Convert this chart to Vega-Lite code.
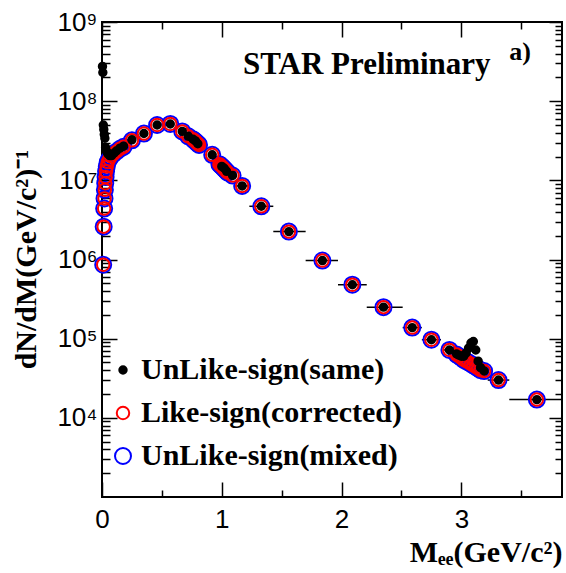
{
  "$schema": "https://vega.github.io/schema/vega-lite/v6.json",
  "width": 460,
  "height": 475,
  "autosize": {"type": "none"},
  "padding": {"left": 102, "top": 22, "right": 4, "bottom": 76},
  "background": "white",
  "config": {
    "view": {"stroke": "black", "strokeWidth": 2},
    "axis": {"domain": false, "grid": false, "tickColor": "black", "tickWidth": 1.5, "labelColor": "black", "titleColor": "black"}
  },
  "datasets": {
    "pts": [
      {"s": "UnLike-sign(mixed)", "m": 0.010, "v": 860000}, {"s": "UnLike-sign(mixed)", "m": 0.014, "v": 2600000}, {"s": "UnLike-sign(mixed)", "m": 0.018, "v": 4400000}, {"s": "UnLike-sign(mixed)", "m": 0.021, "v": 5900000}, {"s": "UnLike-sign(mixed)", "m": 0.024, "v": 7600000}, {"s": "UnLike-sign(mixed)", "m": 0.027, "v": 9200000}, {"s": "UnLike-sign(mixed)", "m": 0.030, "v": 11000000}, {"s": "UnLike-sign(mixed)", "m": 0.034, "v": 13000000}, {"s": "UnLike-sign(mixed)", "m": 0.040, "v": 15000000}, {"s": "UnLike-sign(mixed)", "m": 0.048, "v": 17000000}, {"s": "UnLike-sign(mixed)", "m": 0.060, "v": 18500000}, {"s": "UnLike-sign(mixed)", "m": 0.075, "v": 20000000}, {"s": "UnLike-sign(mixed)", "m": 0.095, "v": 21500000}, {"s": "UnLike-sign(mixed)", "m": 0.12, "v": 23000000}, {"s": "UnLike-sign(mixed)", "m": 0.15, "v": 25000000}, {"s": "UnLike-sign(mixed)", "m": 0.18, "v": 26500000}, {"s": "UnLike-sign(mixed)", "m": 0.25, "v": 32000000}, {"s": "UnLike-sign(mixed)", "m": 0.35, "v": 39000000}, {"s": "UnLike-sign(mixed)", "m": 0.46, "v": 50000000}, {"s": "UnLike-sign(mixed)", "m": 0.57, "v": 51500000}, {"s": "UnLike-sign(mixed)", "m": 0.67, "v": 41500000}, {"s": "UnLike-sign(mixed)", "m": 0.72, "v": 36000000}, {"s": "UnLike-sign(mixed)", "m": 0.76, "v": 33000000}, {"s": "UnLike-sign(mixed)", "m": 0.77, "v": 32000000}, {"s": "UnLike-sign(mixed)", "m": 0.78, "v": 31000000}, {"s": "UnLike-sign(mixed)", "m": 0.79, "v": 30000000}, {"s": "UnLike-sign(mixed)", "m": 0.80, "v": 29000000}, {"s": "UnLike-sign(mixed)", "m": 0.81, "v": 28000000}, {"s": "UnLike-sign(mixed)", "m": 0.92, "v": 21000000}, {"s": "UnLike-sign(mixed)", "m": 0.98, "v": 16000000}, {"s": "UnLike-sign(mixed)", "m": 0.99, "v": 15500000}, {"s": "UnLike-sign(mixed)", "m": 1.00, "v": 15000000}, {"s": "UnLike-sign(mixed)", "m": 1.01, "v": 14500000}, {"s": "UnLike-sign(mixed)", "m": 1.02, "v": 14000000}, {"s": "UnLike-sign(mixed)", "m": 1.03, "v": 13500000}, {"s": "UnLike-sign(mixed)", "m": 1.04, "v": 13000000}, {"s": "UnLike-sign(mixed)", "m": 1.05, "v": 12500000}, {"s": "UnLike-sign(mixed)", "m": 1.09, "v": 11500000}, {"s": "UnLike-sign(mixed)", "m": 1.17, "v": 8500000}, {"s": "UnLike-sign(mixed)", "m": 1.33, "v": 4700000}, {"s": "UnLike-sign(mixed)", "m": 1.56, "v": 2250000}, {"s": "UnLike-sign(mixed)", "m": 1.84, "v": 970000}, {"s": "UnLike-sign(mixed)", "m": 2.09, "v": 480000}, {"s": "UnLike-sign(mixed)", "m": 2.35, "v": 250000}, {"s": "UnLike-sign(mixed)", "m": 2.59, "v": 138000}, {"s": "UnLike-sign(mixed)", "m": 2.75, "v": 97000}, {"s": "UnLike-sign(mixed)", "m": 2.90, "v": 72000}, {"s": "UnLike-sign(mixed)", "m": 2.96, "v": 63000}, {"s": "UnLike-sign(mixed)", "m": 2.98, "v": 60000}, {"s": "UnLike-sign(mixed)", "m": 3.00, "v": 57000}, {"s": "UnLike-sign(mixed)", "m": 3.02, "v": 54000}, {"s": "UnLike-sign(mixed)", "m": 3.04, "v": 52000}, {"s": "UnLike-sign(mixed)", "m": 3.06, "v": 50000}, {"s": "UnLike-sign(mixed)", "m": 3.08, "v": 48000}, {"s": "UnLike-sign(mixed)", "m": 3.10, "v": 46000}, {"s": "UnLike-sign(mixed)", "m": 3.12, "v": 44000}, {"s": "UnLike-sign(mixed)", "m": 3.14, "v": 42000}, {"s": "UnLike-sign(mixed)", "m": 3.16, "v": 40000}, {"s": "UnLike-sign(mixed)", "m": 3.19, "v": 39000}, {"s": "UnLike-sign(mixed)", "m": 3.31, "v": 30000}, {"s": "UnLike-sign(mixed)", "m": 3.63, "v": 17000},
      {"s": "Like-sign(corrected)", "m": 0.010, "v": 860000}, {"s": "Like-sign(corrected)", "m": 0.014, "v": 2600000}, {"s": "Like-sign(corrected)", "m": 0.018, "v": 4400000}, {"s": "Like-sign(corrected)", "m": 0.021, "v": 5900000}, {"s": "Like-sign(corrected)", "m": 0.024, "v": 7600000}, {"s": "Like-sign(corrected)", "m": 0.027, "v": 9200000}, {"s": "Like-sign(corrected)", "m": 0.030, "v": 11000000}, {"s": "Like-sign(corrected)", "m": 0.034, "v": 13000000}, {"s": "Like-sign(corrected)", "m": 0.040, "v": 15000000}, {"s": "Like-sign(corrected)", "m": 0.048, "v": 17000000}, {"s": "Like-sign(corrected)", "m": 0.060, "v": 18500000}, {"s": "Like-sign(corrected)", "m": 0.075, "v": 20000000}, {"s": "Like-sign(corrected)", "m": 0.095, "v": 21500000}, {"s": "Like-sign(corrected)", "m": 0.12, "v": 23000000}, {"s": "Like-sign(corrected)", "m": 0.15, "v": 25000000}, {"s": "Like-sign(corrected)", "m": 0.18, "v": 26500000}, {"s": "Like-sign(corrected)", "m": 0.25, "v": 32000000}, {"s": "Like-sign(corrected)", "m": 0.35, "v": 39000000}, {"s": "Like-sign(corrected)", "m": 0.46, "v": 50000000}, {"s": "Like-sign(corrected)", "m": 0.57, "v": 51500000}, {"s": "Like-sign(corrected)", "m": 0.67, "v": 41500000}, {"s": "Like-sign(corrected)", "m": 0.72, "v": 36000000}, {"s": "Like-sign(corrected)", "m": 0.76, "v": 33000000}, {"s": "Like-sign(corrected)", "m": 0.77, "v": 32000000}, {"s": "Like-sign(corrected)", "m": 0.78, "v": 31000000}, {"s": "Like-sign(corrected)", "m": 0.79, "v": 30000000}, {"s": "Like-sign(corrected)", "m": 0.80, "v": 29000000}, {"s": "Like-sign(corrected)", "m": 0.81, "v": 28000000}, {"s": "Like-sign(corrected)", "m": 0.92, "v": 21000000}, {"s": "Like-sign(corrected)", "m": 0.98, "v": 16000000}, {"s": "Like-sign(corrected)", "m": 0.99, "v": 15500000}, {"s": "Like-sign(corrected)", "m": 1.00, "v": 15000000}, {"s": "Like-sign(corrected)", "m": 1.01, "v": 14500000}, {"s": "Like-sign(corrected)", "m": 1.02, "v": 14000000}, {"s": "Like-sign(corrected)", "m": 1.03, "v": 13500000}, {"s": "Like-sign(corrected)", "m": 1.04, "v": 13000000}, {"s": "Like-sign(corrected)", "m": 1.05, "v": 12500000}, {"s": "Like-sign(corrected)", "m": 1.09, "v": 11500000}, {"s": "Like-sign(corrected)", "m": 1.17, "v": 8500000}, {"s": "Like-sign(corrected)", "m": 1.33, "v": 4700000}, {"s": "Like-sign(corrected)", "m": 1.56, "v": 2250000}, {"s": "Like-sign(corrected)", "m": 1.84, "v": 970000}, {"s": "Like-sign(corrected)", "m": 2.09, "v": 480000}, {"s": "Like-sign(corrected)", "m": 2.35, "v": 250000}, {"s": "Like-sign(corrected)", "m": 2.59, "v": 138000}, {"s": "Like-sign(corrected)", "m": 2.75, "v": 97000}, {"s": "Like-sign(corrected)", "m": 2.90, "v": 72000}, {"s": "Like-sign(corrected)", "m": 2.96, "v": 63000}, {"s": "Like-sign(corrected)", "m": 2.98, "v": 60000}, {"s": "Like-sign(corrected)", "m": 3.00, "v": 57000}, {"s": "Like-sign(corrected)", "m": 3.02, "v": 54000}, {"s": "Like-sign(corrected)", "m": 3.04, "v": 52000}, {"s": "Like-sign(corrected)", "m": 3.06, "v": 50000}, {"s": "Like-sign(corrected)", "m": 3.08, "v": 48000}, {"s": "Like-sign(corrected)", "m": 3.10, "v": 46000}, {"s": "Like-sign(corrected)", "m": 3.12, "v": 44000}, {"s": "Like-sign(corrected)", "m": 3.14, "v": 42000}, {"s": "Like-sign(corrected)", "m": 3.16, "v": 40000}, {"s": "Like-sign(corrected)", "m": 3.19, "v": 39000}, {"s": "Like-sign(corrected)", "m": 3.31, "v": 30000}, {"s": "Like-sign(corrected)", "m": 3.63, "v": 17000},
      {"s": "UnLike-sign(same)", "m": 0.004, "v": 275000000}, {"s": "UnLike-sign(same)", "m": 0.007, "v": 230000000}, {"s": "UnLike-sign(same)", "m": 0.011, "v": 50000000}, {"s": "UnLike-sign(same)", "m": 0.015, "v": 44000000}, {"s": "UnLike-sign(same)", "m": 0.019, "v": 38000000}, {"s": "UnLike-sign(same)", "m": 0.024, "v": 34000000}, {"s": "UnLike-sign(same)", "m": 0.030, "v": 26000000}, {"s": "UnLike-sign(same)", "m": 0.040, "v": 23000000}, {"s": "UnLike-sign(same)", "m": 0.050, "v": 21500000}, {"s": "UnLike-sign(same)", "m": 0.065, "v": 20500000}, {"s": "UnLike-sign(same)", "m": 0.080, "v": 20500000}, {"s": "UnLike-sign(same)", "m": 0.10, "v": 22000000}, {"s": "UnLike-sign(same)", "m": 0.12, "v": 23500000}, {"s": "UnLike-sign(same)", "m": 0.15, "v": 25500000}, {"s": "UnLike-sign(same)", "m": 0.18, "v": 27000000}, {"s": "UnLike-sign(same)", "m": 0.25, "v": 32500000}, {"s": "UnLike-sign(same)", "m": 0.35, "v": 39000000}, {"s": "UnLike-sign(same)", "m": 0.46, "v": 50000000}, {"s": "UnLike-sign(same)", "m": 0.57, "v": 51500000}, {"s": "UnLike-sign(same)", "m": 0.67, "v": 41500000}, {"s": "UnLike-sign(same)", "m": 0.72, "v": 36000000}, {"s": "UnLike-sign(same)", "m": 0.76, "v": 33000000}, {"s": "UnLike-sign(same)", "m": 0.78, "v": 31500000}, {"s": "UnLike-sign(same)", "m": 0.80, "v": 29000000}, {"s": "UnLike-sign(same)", "m": 0.92, "v": 21000000}, {"s": "UnLike-sign(same)", "m": 1.00, "v": 15000000}, {"s": "UnLike-sign(same)", "m": 1.02, "v": 14200000}, {"s": "UnLike-sign(same)", "m": 1.04, "v": 13000000}, {"s": "UnLike-sign(same)", "m": 1.09, "v": 11500000}, {"s": "UnLike-sign(same)", "m": 1.17, "v": 8500000, "lo": 1.11, "hi": 1.23}, {"s": "UnLike-sign(same)", "m": 1.33, "v": 4700000, "lo": 1.23, "hi": 1.43}, {"s": "UnLike-sign(same)", "m": 1.56, "v": 2250000, "lo": 1.43, "hi": 1.70}, {"s": "UnLike-sign(same)", "m": 1.84, "v": 970000, "lo": 1.70, "hi": 1.97}, {"s": "UnLike-sign(same)", "m": 2.09, "v": 480000, "lo": 1.97, "hi": 2.21}, {"s": "UnLike-sign(same)", "m": 2.35, "v": 250000, "lo": 2.21, "hi": 2.51}, {"s": "UnLike-sign(same)", "m": 2.59, "v": 138000, "lo": 2.51, "hi": 2.67}, {"s": "UnLike-sign(same)", "m": 2.75, "v": 97000, "lo": 2.67, "hi": 2.83}, {"s": "UnLike-sign(same)", "m": 2.90, "v": 72000, "lo": 2.85, "hi": 2.95}, {"s": "UnLike-sign(same)", "m": 2.96, "v": 64000}, {"s": "UnLike-sign(same)", "m": 2.98, "v": 62000}, {"s": "UnLike-sign(same)", "m": 3.00, "v": 60000}, {"s": "UnLike-sign(same)", "m": 3.02, "v": 60000}, {"s": "UnLike-sign(same)", "m": 3.04, "v": 66000}, {"s": "UnLike-sign(same)", "m": 3.06, "v": 76000}, {"s": "UnLike-sign(same)", "m": 3.08, "v": 88000}, {"s": "UnLike-sign(same)", "m": 3.10, "v": 92000}, {"s": "UnLike-sign(same)", "m": 3.12, "v": 72000}, {"s": "UnLike-sign(same)", "m": 3.14, "v": 52000}, {"s": "UnLike-sign(same)", "m": 3.16, "v": 43000}, {"s": "UnLike-sign(same)", "m": 3.19, "v": 39000}, {"s": "UnLike-sign(same)", "m": 3.31, "v": 30000, "lo": 3.22, "hi": 3.40}, {"s": "UnLike-sign(same)", "m": 3.63, "v": 17000, "lo": 3.40, "hi": 3.90}
    ],
    "star": [{"t": "STAR Preliminary"}],
    "tag": [{"t": "a)"}]
  },
  "resolve": {"axis": {"x": "independent", "y": "independent"}},
  "layer": [
    {
      "data": {"name": "pts"},
      "transform": [{"filter": "isValid(datum.lo)"}],
      "mark": {"type": "rule", "color": "black", "strokeWidth": 1.5, "clip": true},
      "encoding": {
        "x": {
          "field": "lo", "type": "quantitative",
          "scale": {"domain": [0, 3.84], "nice": false, "zero": false},
          "axis": {
            "orient": "bottom", "values": [0, 1, 2, 3], "tickSize": -15, "labelPadding": 24,
            "labelFont": "Liberation Sans", "labelFontSize": 26, "labelFlush": false, "labelOverlap": false,
            "title": "Mₑₑ(GeV/c²)", "titleFont": "Liberation Serif", "titleFontWeight": "bold", "titleFontSize": 30,
            "titleAlign": "right", "titleAnchor": "end", "titleX": 460, "titleY": 55, "titleBaseline": "middle"
          }
        },
        "x2": {"field": "hi"},
        "y": {
          "field": "v", "type": "quantitative",
          "scale": {"type": "log", "domain": [1000, 1000000000], "nice": false},
          "axis": {
            "orient": "left", "values": [10000, 100000, 1000000, 10000000, 100000000, 1000000000],
            "tickSize": -15, "labelPadding": 20, "labelFont": "Liberation Sans", "labelFontSize": 26, "labelOverlap": false, "labelFlush": false,
            "labelExpr": "'10' + ['⁰','¹','²','³','⁴','⁵','⁶','⁷','⁸','⁹'][round(log(datum.value)/LN10)]",
            "title": "dN/dM(GeV/c²)⁻¹", "titleFont": "Liberation Serif", "titleFontWeight": "bold", "titleFontSize": 30,
            "titleAngle": 270, "titleAlign": "center", "titleBaseline": "middle", "titleX": -76, "titleY": 237
          }
        }
      }
    },
    {
      "data": {"name": "pts"},
      "mark": {"type": "point", "filled": false, "strokeWidth": 2, "opacity": 1},
      "encoding": {
        "x": {
          "field": "m", "type": "quantitative",
          "scale": {"domain": [0, 3.84], "nice": false, "zero": false},
          "axis": {"orient": "bottom", "values": [0.5, 1.5, 2.5, 3.5], "tickSize": -7, "labels": false, "title": null}
        },
        "y": {
          "field": "v", "type": "quantitative",
          "scale": {"type": "log", "domain": [1000, 1000000000], "nice": false},
          "axis": {"orient": "left", "values": [2000, 3000, 4000, 5000, 6000, 7000, 8000, 9000, 20000, 30000, 40000, 50000, 60000, 70000, 80000, 90000, 200000, 300000, 400000, 500000, 600000, 700000, 800000, 900000, 2000000, 3000000, 4000000, 5000000, 6000000, 7000000, 8000000, 9000000, 20000000, 30000000, 40000000, 50000000, 60000000, 70000000, 80000000, 90000000, 200000000, 300000000, 400000000, 500000000, 600000000, 700000000, 800000000, 900000000], "tickSize": -8, "labels": false, "title": null}
        },
        "fill": {
          "field": "s", "type": "nominal",
          "scale": {"domain": ["UnLike-sign(same)", "Like-sign(corrected)", "UnLike-sign(mixed)"], "range": ["black", "transparent", "transparent"]},
          "legend": {"title": null, "orient": "none", "legendX": 6, "legendY": 333, "padding": 0, "labelFont": "Liberation Serif", "labelFontWeight": "bold", "labelFontSize": 30, "labelColor": "black", "labelLimit": 420, "labelOffset": 3, "rowPadding": 13, "symbolStrokeWidth": 2, "symbolType": "circle"}
        },
        "stroke": {
          "field": "s", "type": "nominal",
          "scale": {"domain": ["UnLike-sign(same)", "Like-sign(corrected)", "UnLike-sign(mixed)"], "range": ["black", "red", "blue"]},
          "legend": {"title": null, "orient": "none", "legendX": 6, "legendY": 333, "padding": 0, "labelFont": "Liberation Serif", "labelFontWeight": "bold", "labelFontSize": 30, "labelColor": "black", "labelLimit": 420, "labelOffset": 3, "rowPadding": 13, "symbolStrokeWidth": 2, "symbolType": "circle"}
        },
        "size": {
          "field": "s", "type": "nominal",
          "scale": {"domain": ["UnLike-sign(same)", "Like-sign(corrected)", "UnLike-sign(mixed)"], "range": [55, 256]},
          "legend": {"title": null, "orient": "none", "legendX": 6, "legendY": 333, "padding": 0, "labelFont": "Liberation Serif", "labelFontWeight": "bold", "labelFontSize": 30, "labelColor": "black", "labelLimit": 420, "labelOffset": 3, "rowPadding": 13, "symbolStrokeWidth": 2, "symbolType": "circle"}
        }
      }
    },
    {
      "data": {"name": "star"},
      "mark": {"type": "text", "font": "Liberation Serif", "fontWeight": "bold", "fontSize": 31, "align": "center", "baseline": "middle", "color": "black"},
      "encoding": {
        "text": {"field": "t"},
        "x": {
          "datum": 2.21, "type": "quantitative",
          "scale": {"domain": [0, 3.84], "nice": false, "zero": false},
          "axis": {"orient": "top", "values": [0, 1, 2, 3], "tickSize": -15, "labels": false, "title": null}
        },
        "y": {
          "datum": 285000000, "type": "quantitative",
          "scale": {"type": "log", "domain": [1000, 1000000000], "nice": false},
          "axis": {"orient": "right", "values": [10000, 100000, 1000000, 10000000, 100000000, 1000000000], "tickSize": -13, "labels": false, "title": null}
        }
      }
    },
    {
      "data": {"name": "tag"},
      "mark": {"type": "text", "font": "Liberation Serif", "fontWeight": "bold", "fontSize": 26, "align": "center", "baseline": "middle", "color": "black"},
      "encoding": {
        "text": {"field": "t"},
        "x": {
          "datum": 3.49, "type": "quantitative",
          "scale": {"domain": [0, 3.84], "nice": false, "zero": false},
          "axis": {"orient": "top", "values": [0.5, 1.5, 2.5, 3.5], "tickSize": -7, "labels": false, "title": null}
        },
        "y": {
          "datum": 420000000, "type": "quantitative",
          "scale": {"type": "log", "domain": [1000, 1000000000], "nice": false},
          "axis": {"orient": "right", "values": [2000, 3000, 4000, 5000, 6000, 7000, 8000, 9000, 20000, 30000, 40000, 50000, 60000, 70000, 80000, 90000, 200000, 300000, 400000, 500000, 600000, 700000, 800000, 900000, 2000000, 3000000, 4000000, 5000000, 6000000, 7000000, 8000000, 9000000, 20000000, 30000000, 40000000, 50000000, 60000000, 70000000, 80000000, 90000000, 200000000, 300000000, 400000000, 500000000, 600000000, 700000000, 800000000, 900000000], "tickSize": -7, "labels": false, "title": null}
        }
      }
    }
  ]
}
